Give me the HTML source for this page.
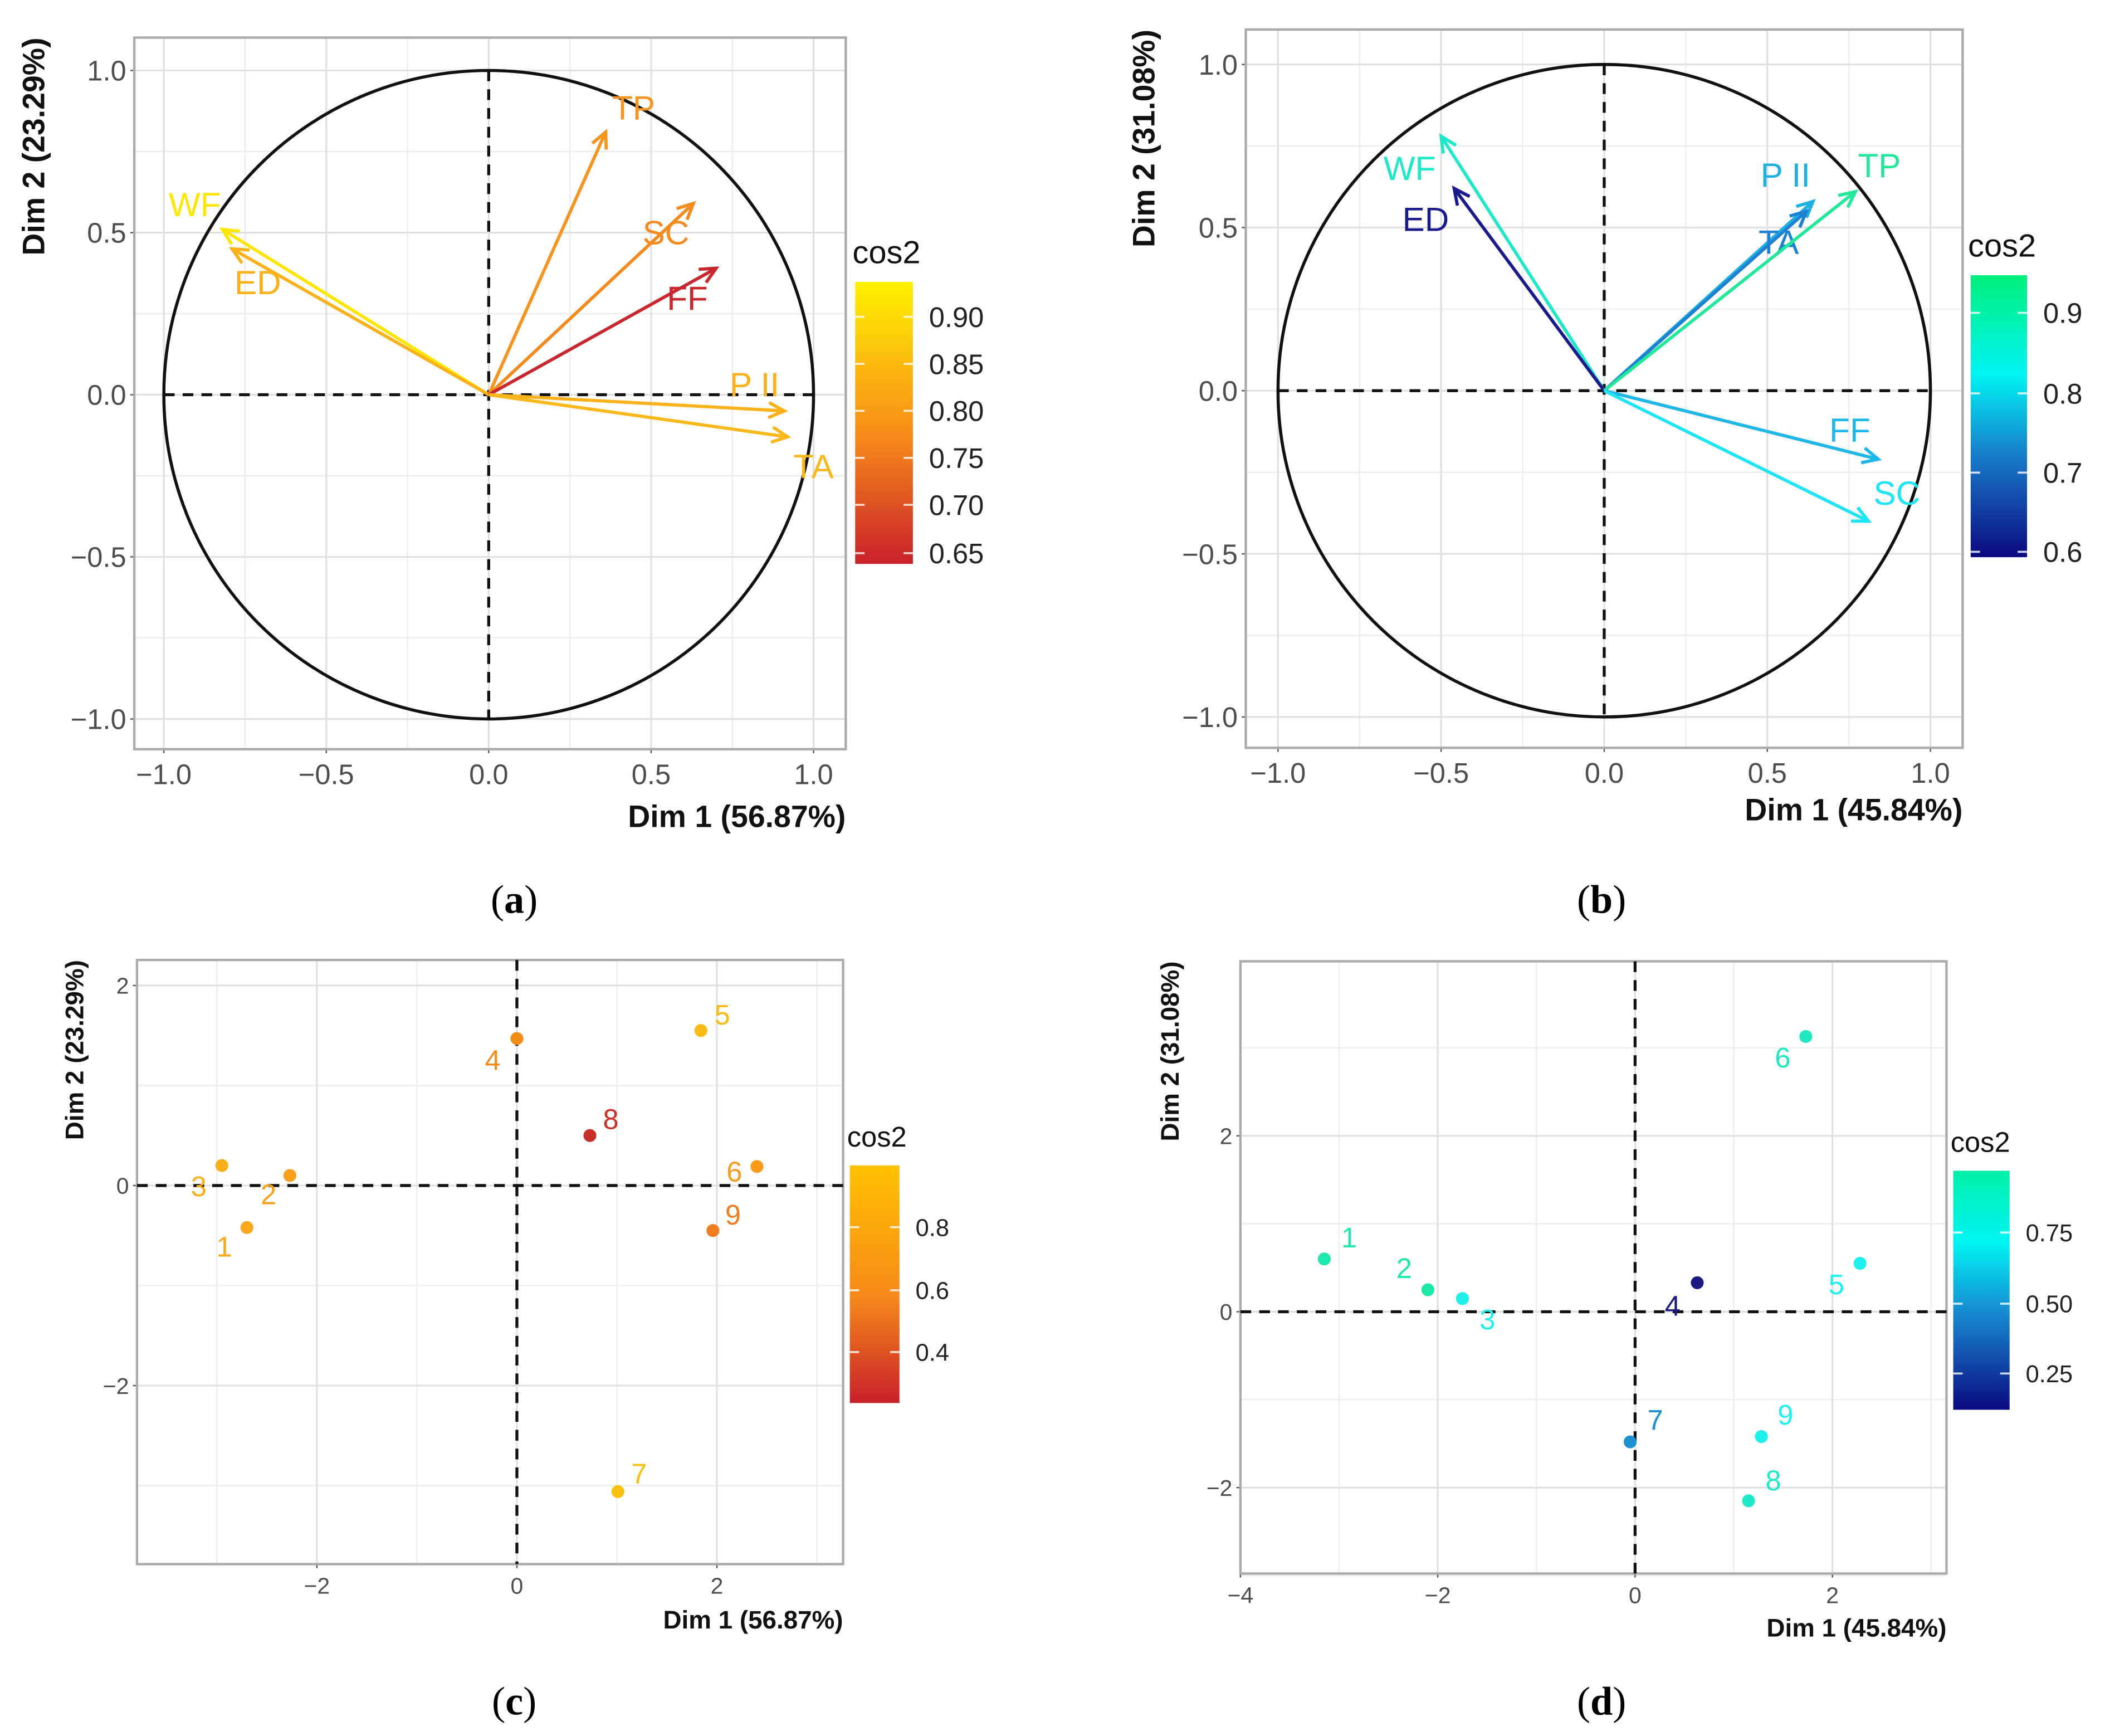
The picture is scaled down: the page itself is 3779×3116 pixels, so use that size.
<!DOCTYPE html>
<html><head><meta charset="utf-8">
<style>
html,body{margin:0;padding:0;background:#fff;}
svg{display:block;}
text{font-family:"Liberation Sans",Arial,sans-serif;}
.ser{font-family:"Liberation Serif",serif;}
</style></head>
<body>
<svg id="fig" width="3779" height="3116" viewBox="0 0 1568 1293" xmlns="http://www.w3.org/2000/svg">
<defs>
<linearGradient id="gA" x1="0" y1="1" x2="0" y2="0"><stop offset="0" stop-color="#c8202a"/><stop offset="0.45" stop-color="#f7891a"/><stop offset="1" stop-color="#fff200"/></linearGradient>
<linearGradient id="gC" x1="0" y1="1" x2="0" y2="0"><stop offset="0" stop-color="#c8202a"/><stop offset="0.45" stop-color="#f7891a"/><stop offset="1" stop-color="#ffc200"/></linearGradient>
<linearGradient id="gB" x1="0" y1="1" x2="0" y2="0"><stop offset="0" stop-color="#0a0a80"/><stop offset="0.35" stop-color="#1878c8"/><stop offset="0.65" stop-color="#00f4f4"/><stop offset="1" stop-color="#00f07a"/></linearGradient>
<linearGradient id="gD" x1="0" y1="1" x2="0" y2="0"><stop offset="0" stop-color="#0a0a80"/><stop offset="0.4" stop-color="#1888d0"/><stop offset="0.7" stop-color="#00f4f4"/><stop offset="1" stop-color="#00f0a8"/></linearGradient>
</defs>
</svg>
<script>
// ---- Data ----
const varsA = ["WF","ED","TP","SC","FF","P II","TA"];
const dim1A = [-0.82,-0.79,0.36,0.63,0.70,0.91,0.92];
const dim2A = [0.51,0.45,0.81,0.59,0.39,-0.05,-0.13];
const colA = ["#ffe600","#fbb21a","#f7941d","#f58a1e","#c8282d","#fbb21a","#fbb81a"];
const labA = [[145,152],[192,210],[472,80],[496,173],[512,222],[562,286],[606,347]];

const varsB = ["WF","ED","P II","TA","TP","FF","SC"];
const dim1B = [-0.50,-0.46,0.64,0.62,0.77,0.84,0.81];
const dim2B = [0.78,0.62,0.58,0.55,0.61,-0.21,-0.40];
const colB = ["#1de8c8","#1a1a8c","#1eb0e0","#1e80d0","#22e89a","#1eb8e8","#1ee4f4"];
const labB = [[1050,125],[1062,163],[1330,130],[1325,180],[1400,123],[1378,320],[1413,367]];

const indC = ["1","2","3","4","5","6","7","8","9"];
const xC = [-2.70,-2.27,-2.95,0.0,1.84,2.40,1.01,0.73,1.96];
const yC = [-0.42,0.10,0.20,1.47,1.55,0.19,-3.06,0.50,-0.45];
const colC = ["#f8a81a","#f8a01a","#f8b01a","#f48c1a","#f8bc14","#f89a1a","#f8c010","#c8302a","#f07c1e"];
const labC = [[167,929],[200,890],[148,884],[367,790],[538,756],[547,873],[476,1098],[455,834],[546,905]];

const indD = ["1","2","3","4","5","6","7","8","9"];
const xD = [-3.15,-2.10,-1.75,0.63,2.28,1.73,-0.05,1.15,1.28];
const yD = [0.60,0.25,0.15,0.33,0.55,3.13,-1.48,-2.15,-1.42];
const colD = ["#1de8b0","#1de8a8","#1ef0e8","#1a1a80","#1ef0f0","#1ee8c0","#1e90d0","#1ee8c8","#1ef0ec"];
const labD = [[1005,922],[1046,945],[1108,983],[1246,973],[1368,957],[1328,788],[1233,1058],[1321,1103],[1330,1054]];

const svg = document.getElementById('fig');
const NS = 'http://www.w3.org/2000/svg';
function mk(tag, attrs, parent){const e=document.createElementNS(NS,tag);for(const k in attrs)e.setAttribute(k,attrs[k]);(parent||svg).appendChild(e);return e;}
function txt(s, attrs, parent){const e=mk('text',attrs,parent);e.textContent=s;return e;}

function panel(cfg){
  const g = mk('g',{});
  
  
  const sx = v => cfg.x0 + (v - cfg.xz) * cfg.xs;
  const sy = v => cfg.y0 - (v - cfg.yz) * cfg.ys;
  cfg.minX.forEach(v=>{const l=mk('line',{x1:sx(v),x2:sx(v),y1:cfg.top,y2:cfg.bot,stroke:'#ededed','stroke-width':1},g);});
  cfg.minY.forEach(v=>{const l=mk('line',{y1:sy(v),y2:sy(v),x1:cfg.left,x2:cfg.right,stroke:'#ededed','stroke-width':1},g);});
  cfg.ticksX.forEach(v=>{const l=mk('line',{x1:sx(v),x2:sx(v),y1:cfg.top,y2:cfg.bot,stroke:'#e0e0e0','stroke-width':1.3},g);
    const t=txt(cfg.fmt(v),{x:sx(v),y:cfg.bot+cfg.fs+5,'font-size':cfg.fs,fill:'#4d4d4d','text-anchor':'middle'},g);
    mk('line',{x1:sx(v),x2:sx(v),y1:cfg.bot,y2:cfg.bot+3,stroke:'#555','stroke-width':1},g);});
  cfg.ticksY.forEach(v=>{const l=mk('line',{y1:sy(v),y2:sy(v),x1:cfg.left,x2:cfg.right,stroke:'#e0e0e0','stroke-width':1.3},g);
    const t=txt(cfg.fmt(v),{x:cfg.left-6,y:sy(v)+cfg.fs*0.36,'font-size':cfg.fs,fill:'#4d4d4d','text-anchor':'end'},g);
    mk('line',{x1:cfg.left-3,x2:cfg.left,y1:sy(v),y2:sy(v),stroke:'#555','stroke-width':1},g);});
  const fr=mk('rect',{x:cfg.left,y:cfg.top,width:cfg.right-cfg.left,height:cfg.bot-cfg.top,fill:'none',stroke:'#aaa','stroke-width':1.8},g);
  
  if(cfg.circle){const c=mk('ellipse',{cx:sx(0),cy:sy(0),rx:cfg.xs,ry:cfg.ys,fill:'none',stroke:'#111','stroke-width':2.3},g);}
  const hx0 = cfg.circle? sx(-1):cfg.left, hx1 = cfg.circle? sx(1):cfg.right;
  const vy0 = cfg.circle? sy(1):cfg.top, vy1 = cfg.circle? sy(-1):cfg.bot;
  let d=mk('line',{x1:hx0,x2:hx1,y1:sy(0),y2:sy(0),stroke:'#111','stroke-width':2.2,'stroke-dasharray':'8,6'},g);
  d=mk('line',{x1:sx(0),x2:sx(0),y1:vy0,y2:vy1,stroke:'#111','stroke-width':2.2,'stroke-dasharray':'8,6'},g);
  if(cfg.arrows){
    cfg.names.forEach((n,i)=>{
      const x1=sx(cfg.xv[i]), y1=sy(cfg.yv[i]), x0=sx(0), y0=sy(0);
      const ang=Math.atan2(y1-y0,x1-x0), L=13, a=0.45;
      const p=mk('path',{d:`M${x0},${y0}L${x1},${y1}M${x1-L*Math.cos(ang-a)},${y1-L*Math.sin(ang-a)}L${x1},${y1}L${x1-L*Math.cos(ang+a)},${y1-L*Math.sin(ang+a)}`,fill:'none',stroke:cfg.cols[i],'stroke-width':2.4},g);
      
      
      const t=txt(n,{x:cfg.labs[i][0],y:cfg.labs[i][1]+9,'font-size':25,fill:cfg.cols[i],'text-anchor':'middle'},g);
      
      
    });
  } else {
    cfg.names.forEach((n,i)=>{
      const c=mk('circle',{cx:sx(cfg.xv[i]),cy:sy(cfg.yv[i]),r:4.8,fill:cfg.cols[i]},g);
      
      
      const t=txt(n,{x:cfg.labs[i][0],y:cfg.labs[i][1]+7,'font-size':21,fill:cfg.cols[i],'text-anchor':'middle'},g);
      
      
    });
  }
  let t=txt(cfg.xt,{x:cfg.right,y:cfg.xtY,'font-size':cfg.tfs,'font-weight':'bold',fill:'#111','text-anchor':'end'},g);
  
  t=txt(cfg.yt,{x:0,y:0,'font-size':cfg.tfs,'font-weight':'bold',fill:'#111','text-anchor':'end',transform:`translate(${cfg.ytX},${cfg.top}) rotate(-90)`},g);
  
  const cb=mk('rect',{x:cfg.cb[0],y:cfg.cb[1],width:cfg.cb[2],height:cfg.cb[3],fill:`url(#${cfg.grad})`},g);
  
  t=txt('cos2',{x:cfg.cb[0]-2,y:cfg.cb[1]-14,'font-size':cfg.lfs+3,fill:'#111'},g);
  
  cfg.cbTicks.forEach(([lab,y])=>{
    mk('line',{x1:cfg.cb[0],x2:cfg.cb[0]+7,y1:y,y2:y,stroke:'#fff','stroke-width':1.5,opacity:0.8},g);
    mk('line',{x1:cfg.cb[0]+cfg.cb[2]-7,x2:cfg.cb[0]+cfg.cb[2],y1:y,y2:y,stroke:'#fff','stroke-width':1.5,opacity:0.8},g);
    const tt=txt(lab,{x:cfg.cb[0]+cfg.cb[2]+12,y:y+cfg.lfs*0.36,'font-size':cfg.lfs,fill:'#222'},g);
    
  });
  t=mk('text',{x:cfg.capXY[0],y:cfg.capXY[1],'font-size':30,fill:'#000','text-anchor':'middle',class:'ser'},g);
  t.innerHTML='(<tspan font-weight="bold">'+cfg.cap+'</tspan>)';
  
}
const f1 = v => v.toFixed(1).replace('-','\u2212');
const f0 = v => String(v).replace('-','\u2212');
panel({name:'panel-a-variables',left:100,right:630,top:28,bot:558,x0:364,xz:0,xs:242,y0:294,yz:0,ys:241.5,
  minX:[-0.75,-0.25,0.25,0.75],minY:[-0.75,-0.25,0.25,0.75],ticksX:[-1,-0.5,0,0.5,1],ticksY:[-1,-0.5,0,0.5,1],fmt:f1,fs:21,
  circle:true,arrows:true,names:varsA,xv:dim1A,yv:dim2A,cols:colA,labs:labA,
  xt:'Dim 1 (56.87%)',xtY:616,yt:'Dim 2 (23.29%)',ytX:33,tfs:23,
  cb:[637,210,43,210],grad:'gA',lfs:21,cbTicks:[['0.90',236],['0.85',271],['0.80',306],['0.75',341],['0.70',376],['0.65',412]],
  cap:'a',capXY:[383,680]});
panel({name:'panel-b-variables',left:928,right:1462,top:22,bot:557,x0:1195,xz:0,xs:243,y0:291,yz:0,ys:243,
  minX:[-0.75,-0.25,0.25,0.75],minY:[-0.75,-0.25,0.25,0.75],ticksX:[-1,-0.5,0,0.5,1],ticksY:[-1,-0.5,0,0.5,1],fmt:f1,fs:21,
  circle:true,arrows:true,names:varsB,xv:dim1B,yv:dim2B,cols:colB,labs:labB,
  xt:'Dim 1 (45.84%)',xtY:611,yt:'Dim 2 (31.08%)',ytX:860,tfs:23,
  cb:[1468,205,42,210],grad:'gB',lfs:21,cbTicks:[['0.9',233],['0.8',293],['0.7',352],['0.6',411]],
  cap:'b',capXY:[1193,680]});
panel({name:'panel-c-individuals',left:102,right:628,top:715,bot:1165,x0:385,xz:0,xs:74.5,y0:883,yz:0,ys:74.5,
  minX:[-3,-1,1,3],minY:[-3,-1,1],ticksX:[-2,0,2],ticksY:[-2,0,2],fmt:f0,fs:17,
  circle:false,arrows:false,names:indC,xv:xC,yv:yC,cols:colC,labs:labC,
  xt:'Dim 1 (56.87%)',xtY:1213,yt:'Dim 2 (23.29%)',ytX:62,tfs:19,
  cb:[633,868,37,177],grad:'gC',lfs:18,cbTicks:[['0.8',914],['0.6',961],['0.4',1007]],
  cap:'c',capXY:[383,1277]});
panel({name:'panel-d-individuals',left:924,right:1450,top:716,bot:1172,x0:1218,xz:0,xs:73.5,y0:977,yz:0,ys:65.5,
  minX:[-3,-1,1,3],minY:[-3,-1,1,3],ticksX:[-4,-2,0,2],ticksY:[-2,0,2],fmt:f0,fs:17,
  circle:false,arrows:false,names:indD,xv:xD,yv:yD,cols:colD,labs:labD,
  xt:'Dim 1 (45.84%)',xtY:1219,yt:'Dim 2 (31.08%)',ytX:878,tfs:19,
  cb:[1455,872,42,178],grad:'gD',lfs:18,cbTicks:[['0.75',918],['0.50',971],['0.25',1023]],
  cap:'d',capXY:[1193,1277]});
</script>
</body></html>
